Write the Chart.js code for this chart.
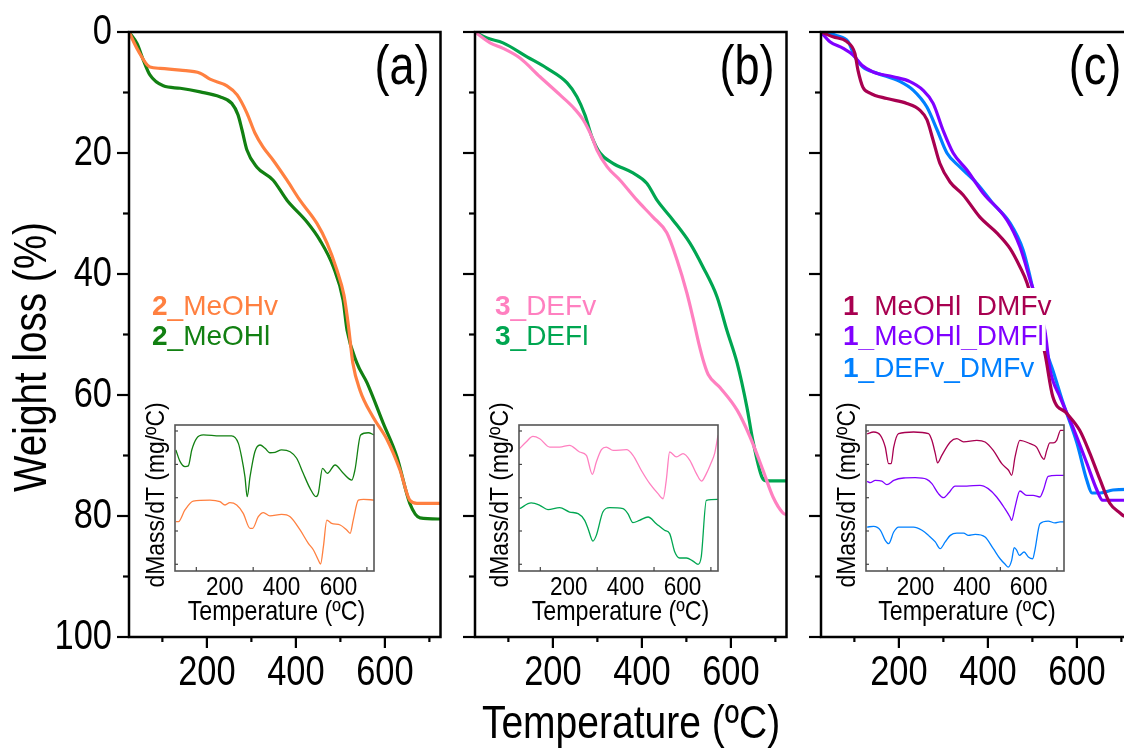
<!DOCTYPE html>
<html><head><meta charset="utf-8">
<script src="https://cdn.jsdelivr.net/npm/chart.js@4/dist/chart.umd.min.js"></script>
<style>
html,body{margin:0;padding:0;background:#fff;overflow:hidden;width:1124px;height:755px}
#wrap{position:relative;width:1124px;height:755px;overflow:hidden;background:#fff}
canvas{position:absolute;left:0;top:0}
</style></head>
<body><div id="wrap"></div>
<script>
// ---------- DATA (temperature in ºC, weight loss in %) ----------
// Panel (a)
const A_T_MeOHv = [25,45,72,95,140,185,207,245,268,290,308,326,349,380,409,447,470,492,508,518,528,544,573,605,634,656,672,725];
const A_W_MeOHv = [0,3.0,5.8,6.0,6.3,6.8,7.8,8.9,10.4,13.4,16.7,19,21.2,24.5,27.8,31.6,34.9,39.3,43.5,48.5,54.7,59.2,63.6,67.4,72.4,77.4,77.9,77.9];
const A_T_MeOHl = [25,43,57,72,102,140,185,229,256,270,279,290,312,349,380,425,454,484,506,515,537,560,596,627,656,679,725];
const A_W_MeOHl = [0,1.9,4.6,7.1,8.9,9.3,9.9,10.7,11.8,13.7,16.2,19.5,22.3,24.5,27.8,31.4,34.4,38.8,44.3,49.3,54.7,58,64.6,70.2,77.9,80.3,80.5];
// Panel (b)
const B_T_DEFv = [25,59,88,126,171,216,245,268,288,299,322,351,389,425,456,479,501,515,528,540,549,576,614,643,672,695,717,725];
const B_W_DEFv = [0,1.8,2.7,4.3,7.4,10.4,12.4,14.5,17.4,19.5,22.3,24.5,27.8,30.6,33.2,37.7,43.1,47.3,51.5,54.8,56.6,58.8,62.5,66.9,72.4,76.9,79.5,79.8];
const B_T_DEFl = [25,52,88,142,187,232,254,272,288,306,335,380,411,434,470,508,537,569,591,614,636,649,670,681,725];
const B_W_DEFl = [0,1,1.8,4.1,6,8.4,10.7,13.7,17.4,20,21.7,23.3,25,27.8,31.1,34.9,38.8,43.8,49.3,54.7,62,67.4,73.6,74.2,74.2];
// Panel (c)
const C_T_MeOHlDMFv = [25,52,83,101,108,119,135,173,218,247,263,277,292,315,344,382,420,450,472,488,528,546,577,606,629,652,674,697,706,725];
const C_W_MeOHlDMFv = [0,0.8,1.6,3.5,6.3,9.1,10.1,11,11.8,12.9,14.5,17.9,21.7,24.8,26.9,30.6,33.2,35.8,38.8,41.5,53.1,60.3,63,65.8,69.6,74,77.9,79.5,80,80.2];
const C_T_MeOHlDMFl = [25,45,75,97,117,142,187,225,254,277,299,322,353,389,443,472,495,528,540,562,591,622,645,658,725];
const C_W_MeOHlDMFl = [0,1.6,2.7,3.8,5.5,6.6,7.4,8.2,9.6,11.8,16.2,20,22.8,26.6,31.1,35.5,41,49.3,55.9,60.3,65.3,71.2,75.7,77.4,77.4];
const C_T_DEFvDMFv = [25,61,86,101,119,151,203,232,263,286,308,337,375,411,450,479,495,533,546,569,600,622,634,652,681,725];
const C_W_DEFvDMFv = [0,0.6,1.6,4.1,5.8,6.8,8.2,9.6,12.4,16.2,20,22.3,25,28.3,31.6,36,40.5,53.1,55.9,61.3,67.9,74,76.2,76.2,75.7,75.6];

// Insets: dMass/dT (arbitrary, stacked)
const IA_T_MeOHl = [28,43,60,72,84,101,125,183,224,248,259,271,279,289,306,324,342,359,377,400,430,453,476,500,521,529,544,561,588,617,647,658,678,705,725];
const IA_V_MeOHl = [82.9,74.9,71.5,72,82.9,90.9,93.2,92.5,92.5,87.4,78.3,64.6,50.9,64.6,81.7,86.3,84,81,81.3,82.9,81.7,77.2,66.9,56.6,50.9,53.2,70.3,66.9,72.6,66.9,62.3,69.2,93.2,94.7,93.2];
const IA_T_MeOHv = [28,37,60,89,148,183,201,218,242,265,289,298,318,336,359,400,430,465,494,512,529,537,547,559,576,606,629,641,652,670,688,725];
const IA_V_MeOHv = [33.8,33.8,41.8,47.9,48.6,47.5,45.2,46.8,45.2,39.5,29.2,29.2,37.2,40,37.7,38.8,37.2,28.1,18.9,14.4,7.5,4.8,16.7,34.9,32.6,31.5,28.1,25.8,34.9,48.6,49.1,48.6];
const IB_T_DEFv = [27,50,74,98,133,168,203,238,262,283,297,315,332,356,403,426,455,485,514,532,543,555,579,602,626,649,667,684,702,713,725];
const IB_V_DEFv = [83.8,88.4,92.2,90.6,84.9,84.9,86.1,81.5,79.2,66.2,74.7,83.1,84.9,82.6,83.1,79.2,69,59.8,53,49.5,62.1,81.5,78.1,80.4,75.8,66.7,61.6,66.7,74.7,80.4,92.9];
const IB_T_DEFl = [27,68,98,127,168,203,233,256,268,285,297,320,344,391,408,426,449,479,508,537,555,573,590,614,637,655,666,684,725];
const IB_V_DEFl = [42.7,46.6,45,42,43.4,40.4,39.3,34.7,29,20.5,24.4,40.4,43.4,42.7,39.3,33.1,34.7,37,32.4,27.9,25.6,13,8.9,8.9,6.8,4.6,9.6,48.4,49.1];
const IC_T_MeOHlDMFv = [29,52,76,93,105,114,123,140,193,246,258,270,278,293,323,346,370,417,446,475,505,529,540,552,569,605,628,646,654,664,675,687,699,713,725];
const IC_V_MeOHlDMFv = [94,95.2,92.9,84.9,73.5,73.5,84.9,94.1,95.2,94.1,89.5,80.4,74,79.2,88.4,90.6,88.4,89.5,88.4,82.6,73.5,69,65.5,78.1,89.5,87.2,84.9,78.1,76.5,82.6,87.7,87.7,89.5,96.3,96.3];
const IC_T_MeOHlDMFl = [29,40,58,81,99,123,158,199,240,258,281,299,317,340,381,428,457,487,516,534,540,552,569,593,616,640,652,669,699,725];
const IC_V_MeOHlDMFl = [61.4,60.5,62.1,61.6,59.1,62.1,63.7,63.9,62.8,59.8,53,50.2,53.4,58.2,58.2,58.7,56.4,50.7,42.7,37,34.7,43.8,54.8,51.8,51.8,50.7,55.3,64.8,65.5,65.5];
const IC_T_DEFvDMFv = [29,52,76,93,105,123,140,193,223,246,270,287,305,323,346,370,387,411,446,475,499,517,528,540,549,558,567,584,599,614,622,640,669,693,711,725];
const IC_V_DEFvDMFv = [30.1,30.6,27.9,21,18.7,26.7,30.1,30.1,27.9,24.4,19.9,15.3,19.9,24.4,26,26,24.4,25.1,23.3,15.3,8.4,4.6,2.7,7.3,16,14.2,10.7,13,9.6,8.4,14.2,32.4,34.2,32.9,33.6,33.6];

// Ticks
const MAIN_Y_LABELS = [0,20,40,60,80,100];
const MAIN_Y_MINOR = [10,30,50,70,90];
const MAIN_X_LABELS = [200,400,600];
const MAIN_X_MINOR = [100,300,500,700];
const INSET_Y_TICKS = [4.6,27.4,50.2,73,95.9];
const INSET_X_LABELS = [200,400,600];
const INSET_X_MINOR = [100,300,500,700];

// Texts
const Y_TITLE = 'Weight loss (%)';
const X_TITLE = 'Temperature (ºC)';
const INSET_Y_TITLE = 'dMass/dT (mg/ºC)';
const INSET_X_TITLE = 'Temperature (ºC)';

// Colors
const C_ORANGE = '#FF8040', C_GREEN_A = '#128012', C_PINK = '#FF80C0', C_GREEN_B = '#00A651',
      C_MAROON = '#A80050', C_PURPLE = '#8000FF', C_BLUE = '#0080FF';

// ---------- DRAWING ----------
const FONT = '"Liberation Sans", Arial, Helvetica, sans-serif';
const wrap = document.getElementById('wrap');
function makeCanvas(w, h) {
  const c = document.createElement('canvas');
  c.width = w; c.height = h; c.style.width = w + 'px'; c.style.height = h + 'px';
  wrap.appendChild(c); return c;
}
function pts(T, V) { return T.map((t, i) => ({x: t, y: V[i]})); }
function drawText(ctx, s, x, y, size, color, o = {}) {
  ctx.save();
  ctx.translate(x, y);
  if (o.rot) ctx.rotate(o.rot);
  ctx.scale(o.sx || 1, 1);
  ctx.font = (o.bold ? 'bold ' : '') + size + 'px ' + FONT;
  ctx.fillStyle = color;
  ctx.textAlign = o.align || 'center';
  ctx.textBaseline = 'alphabetic';
  ctx.fillText(s, 0, 0);
  ctx.restore();
}
function seg(ctx, x1, y1, x2, y2) { ctx.beginPath(); ctx.moveTo(x1, y1); ctx.lineTo(x2, y2); ctx.stroke(); }
function legendLine(ctx, x, y, pre, rest, color, bg) {
  ctx.save();
  ctx.font = 'bold 28px ' + FONT; const w1 = ctx.measureText(pre).width;
  ctx.font = '28px ' + FONT; const w2 = ctx.measureText(rest).width;
  if (bg) { ctx.fillStyle = '#fff'; ctx.fillRect(x - 2, y - 27, w1 + w2 + 4, 33); }
  ctx.restore();
  drawText(ctx, pre, x, y, 28, color, {align: 'left', bold: true});
  drawText(ctx, rest, x + w1, y, 28, color, {align: 'left'});
}

function mainChart(box, series, cfg) {
  const W = Math.max(1124, Math.ceil(box.right) + 12);
  const cv = makeCanvas(W, 755);
  return new Chart(cv, {
    type: 'line',
    data: {datasets: series.map(s => ({
      label: s.label, data: pts(s.T, s.W), borderColor: s.color, backgroundColor: s.color,
      borderWidth: 3.2, pointRadius: 0, fill: false, cubicInterpolationMode: 'monotone'}))},
    options: {
      responsive: false, animation: false, devicePixelRatio: 1,
      layout: {padding: {left: box.left, top: box.top, right: W - box.right, bottom: 755 - box.bottom}},
      plugins: {legend: {display: false}, tooltip: {enabled: false}},
      scales: {
        x: {type: 'linear', min: 25, max: 725, display: false},
        y: {type: 'linear', min: 0, max: 100, reverse: true, display: false}
      }
    },
    plugins: [{id: 'mainDeco', afterDatasetsDraw(chart) {
      const ctx = chart.ctx, xs = chart.scales.x, ys = chart.scales.y, a = chart.chartArea;
      ctx.save();
      ctx.strokeStyle = '#000'; ctx.lineWidth = 2.5; ctx.lineCap = 'butt';
      ctx.strokeRect(a.left, a.top, a.right - a.left, a.bottom - a.top);
      ctx.lineWidth = 2.2;
      MAIN_Y_LABELS.forEach(v => { const y = ys.getPixelForValue(v); seg(ctx, a.left - 12, y, a.left, y); });
      MAIN_Y_MINOR.forEach(v => { const y = ys.getPixelForValue(v); seg(ctx, a.left - 6, y, a.left, y); });
      MAIN_X_LABELS.forEach(v => { const x = xs.getPixelForValue(v); seg(ctx, x, a.bottom, x, a.bottom + 11); });
      MAIN_X_MINOR.forEach(v => { const x = xs.getPixelForValue(v); seg(ctx, x, a.bottom, x, a.bottom + 5); });
      ctx.restore();
      MAIN_X_LABELS.forEach(v => drawText(ctx, String(v), xs.getPixelForValue(v), a.bottom + 48, 42, '#000', {sx: 0.82}));
      if (cfg.yLabels) {
        MAIN_Y_LABELS.forEach(v => drawText(ctx, String(v), a.left - 17, ys.getPixelForValue(v) + 12, 42, '#000', {sx: 0.82, align: 'right'}));
        drawText(ctx, Y_TITLE, 46, 357, 46, '#000', {sx: 0.84, rot: -Math.PI / 2});
        drawText(ctx, X_TITLE, 631, 738, 47, '#000', {sx: 0.83});
      }
      drawText(ctx, cfg.tag, cfg.tagX, 84, 55, '#000', {sx: 0.82});
      cfg.legend.forEach((l, i) => legendLine(ctx, cfg.legX, cfg.legY[i], l.pre, l.rest, l.color, cfg.legBg));
    }}]
  });
}

function insetChart(box, series) {
  const cv = makeCanvas(1124, 755);
  return new Chart(cv, {
    type: 'line',
    data: {datasets: series.map(s => ({
      label: s.label, data: pts(s.T, s.V), borderColor: s.color, backgroundColor: s.color,
      borderWidth: 1.3, pointRadius: 0, fill: false, cubicInterpolationMode: 'monotone'}))},
    options: {
      responsive: false, animation: false, devicePixelRatio: 1,
      layout: {padding: {left: box.left, top: box.top, right: 1124 - box.right, bottom: 755 - box.bottom}},
      plugins: {legend: {display: false}, tooltip: {enabled: false}},
      scales: {
        x: {type: 'linear', min: 25, max: 725, display: false},
        y: {type: 'linear', min: 0, max: 100, display: false}
      }
    },
    plugins: [{id: 'insetBg', beforeDatasetsDraw(chart) {
      const a = chart.chartArea, ctx = chart.ctx;
      ctx.save(); ctx.fillStyle = '#fff'; ctx.fillRect(a.left, a.top, a.right - a.left, a.bottom - a.top); ctx.restore();
    }, afterDatasetsDraw(chart) {
      const ctx = chart.ctx, xs = chart.scales.x, ys = chart.scales.y, a = chart.chartArea;
      ctx.save();
      ctx.strokeStyle = '#555'; ctx.lineWidth = 1.6;
      ctx.strokeRect(a.left, a.top, a.right - a.left, a.bottom - a.top);
      ctx.lineWidth = 1.2; ctx.strokeStyle = '#444';
      INSET_Y_TICKS.forEach(v => { const y = ys.getPixelForValue(v); seg(ctx, a.left, y, a.left + 3, y); });
      INSET_X_MINOR.forEach(v => { const x = xs.getPixelForValue(v); seg(ctx, x, a.bottom, x, a.bottom - 4); });
      ctx.restore();
      INSET_X_LABELS.forEach(v => drawText(ctx, String(v), xs.getPixelForValue(v), a.bottom + 24, 25, '#000', {sx: 0.9}));
      drawText(ctx, INSET_X_TITLE, (a.left + a.right) / 2 + 2, a.bottom + 49, 28, '#000', {sx: 0.83});
      drawText(ctx, INSET_Y_TITLE, a.left - 11, 495, 26, '#000', {sx: 0.88, rot: -Math.PI / 2});
    }}]
  });
}

// Main panels (plot areas in px)
mainChart({left: 129, top: 32, right: 440.5, bottom: 637}, [
  {label: '2_MeOHv', T: A_T_MeOHv, W: A_W_MeOHv, color: C_ORANGE},
  {label: '2_MeOHl', T: A_T_MeOHl, W: A_W_MeOHl, color: C_GREEN_A}
], {yLabels: true, tag: '(a)', tagX: 402, legX: 152, legY: [315, 345], legBg: false,
    legend: [{pre: '2', rest: '_MeOHv', color: C_ORANGE}, {pre: '2', rest: '_MeOHl', color: C_GREEN_A}]});

mainChart({left: 475, top: 32, right: 786.5, bottom: 637}, [
  {label: '3_DEFv', T: B_T_DEFv, W: B_W_DEFv, color: C_PINK},
  {label: '3_DEFl', T: B_T_DEFl, W: B_W_DEFl, color: C_GREEN_B}
], {yLabels: false, tag: '(b)', tagX: 747, legX: 495, legY: [315, 345], legBg: false,
    legend: [{pre: '3', rest: '_DEFv', color: C_PINK}, {pre: '3', rest: '_DEFl', color: C_GREEN_B}]});

mainChart({left: 821, top: 32, right: 1132.5, bottom: 637}, [
  {label: '1_MeOHl_DMFv', T: C_T_MeOHlDMFv, W: C_W_MeOHlDMFv, color: C_MAROON},
  {label: '1_MeOHl_DMFl', T: C_T_MeOHlDMFl, W: C_W_MeOHlDMFl, color: C_PURPLE},
  {label: '1_DEFv_DMFv', T: C_T_DEFvDMFv, W: C_W_DEFvDMFv, color: C_BLUE}
], {yLabels: false, tag: '(c)', tagX: 1095, legX: 843, legY: [315, 345, 377], legBg: true,
    legend: [{pre: '1', rest: '_MeOHl_DMFv', color: C_MAROON}, {pre: '1', rest: '_MeOHl_DMFl', color: C_PURPLE},
             {pre: '1', rest: '_DEFv_DMFv', color: C_BLUE}]});

// Insets
insetChart({left: 175, top: 425, right: 374, bottom: 571}, [
  {label: '2_MeOHl', T: IA_T_MeOHl, V: IA_V_MeOHl, color: C_GREEN_A},
  {label: '2_MeOHv', T: IA_T_MeOHv, V: IA_V_MeOHv, color: C_ORANGE}
]);
insetChart({left: 519, top: 425, right: 718, bottom: 571}, [
  {label: '3_DEFv', T: IB_T_DEFv, V: IB_V_DEFv, color: C_PINK},
  {label: '3_DEFl', T: IB_T_DEFl, V: IB_V_DEFl, color: C_GREEN_B}
]);
insetChart({left: 866, top: 425, right: 1064, bottom: 571}, [
  {label: '1_MeOHl_DMFv', T: IC_T_MeOHlDMFv, V: IC_V_MeOHlDMFv, color: C_MAROON},
  {label: '1_MeOHl_DMFl', T: IC_T_MeOHlDMFl, V: IC_V_MeOHlDMFl, color: C_PURPLE},
  {label: '1_DEFv_DMFv', T: IC_T_DEFvDMFv, V: IC_V_DEFvDMFv, color: C_BLUE}
]);
</script>
</body></html>
